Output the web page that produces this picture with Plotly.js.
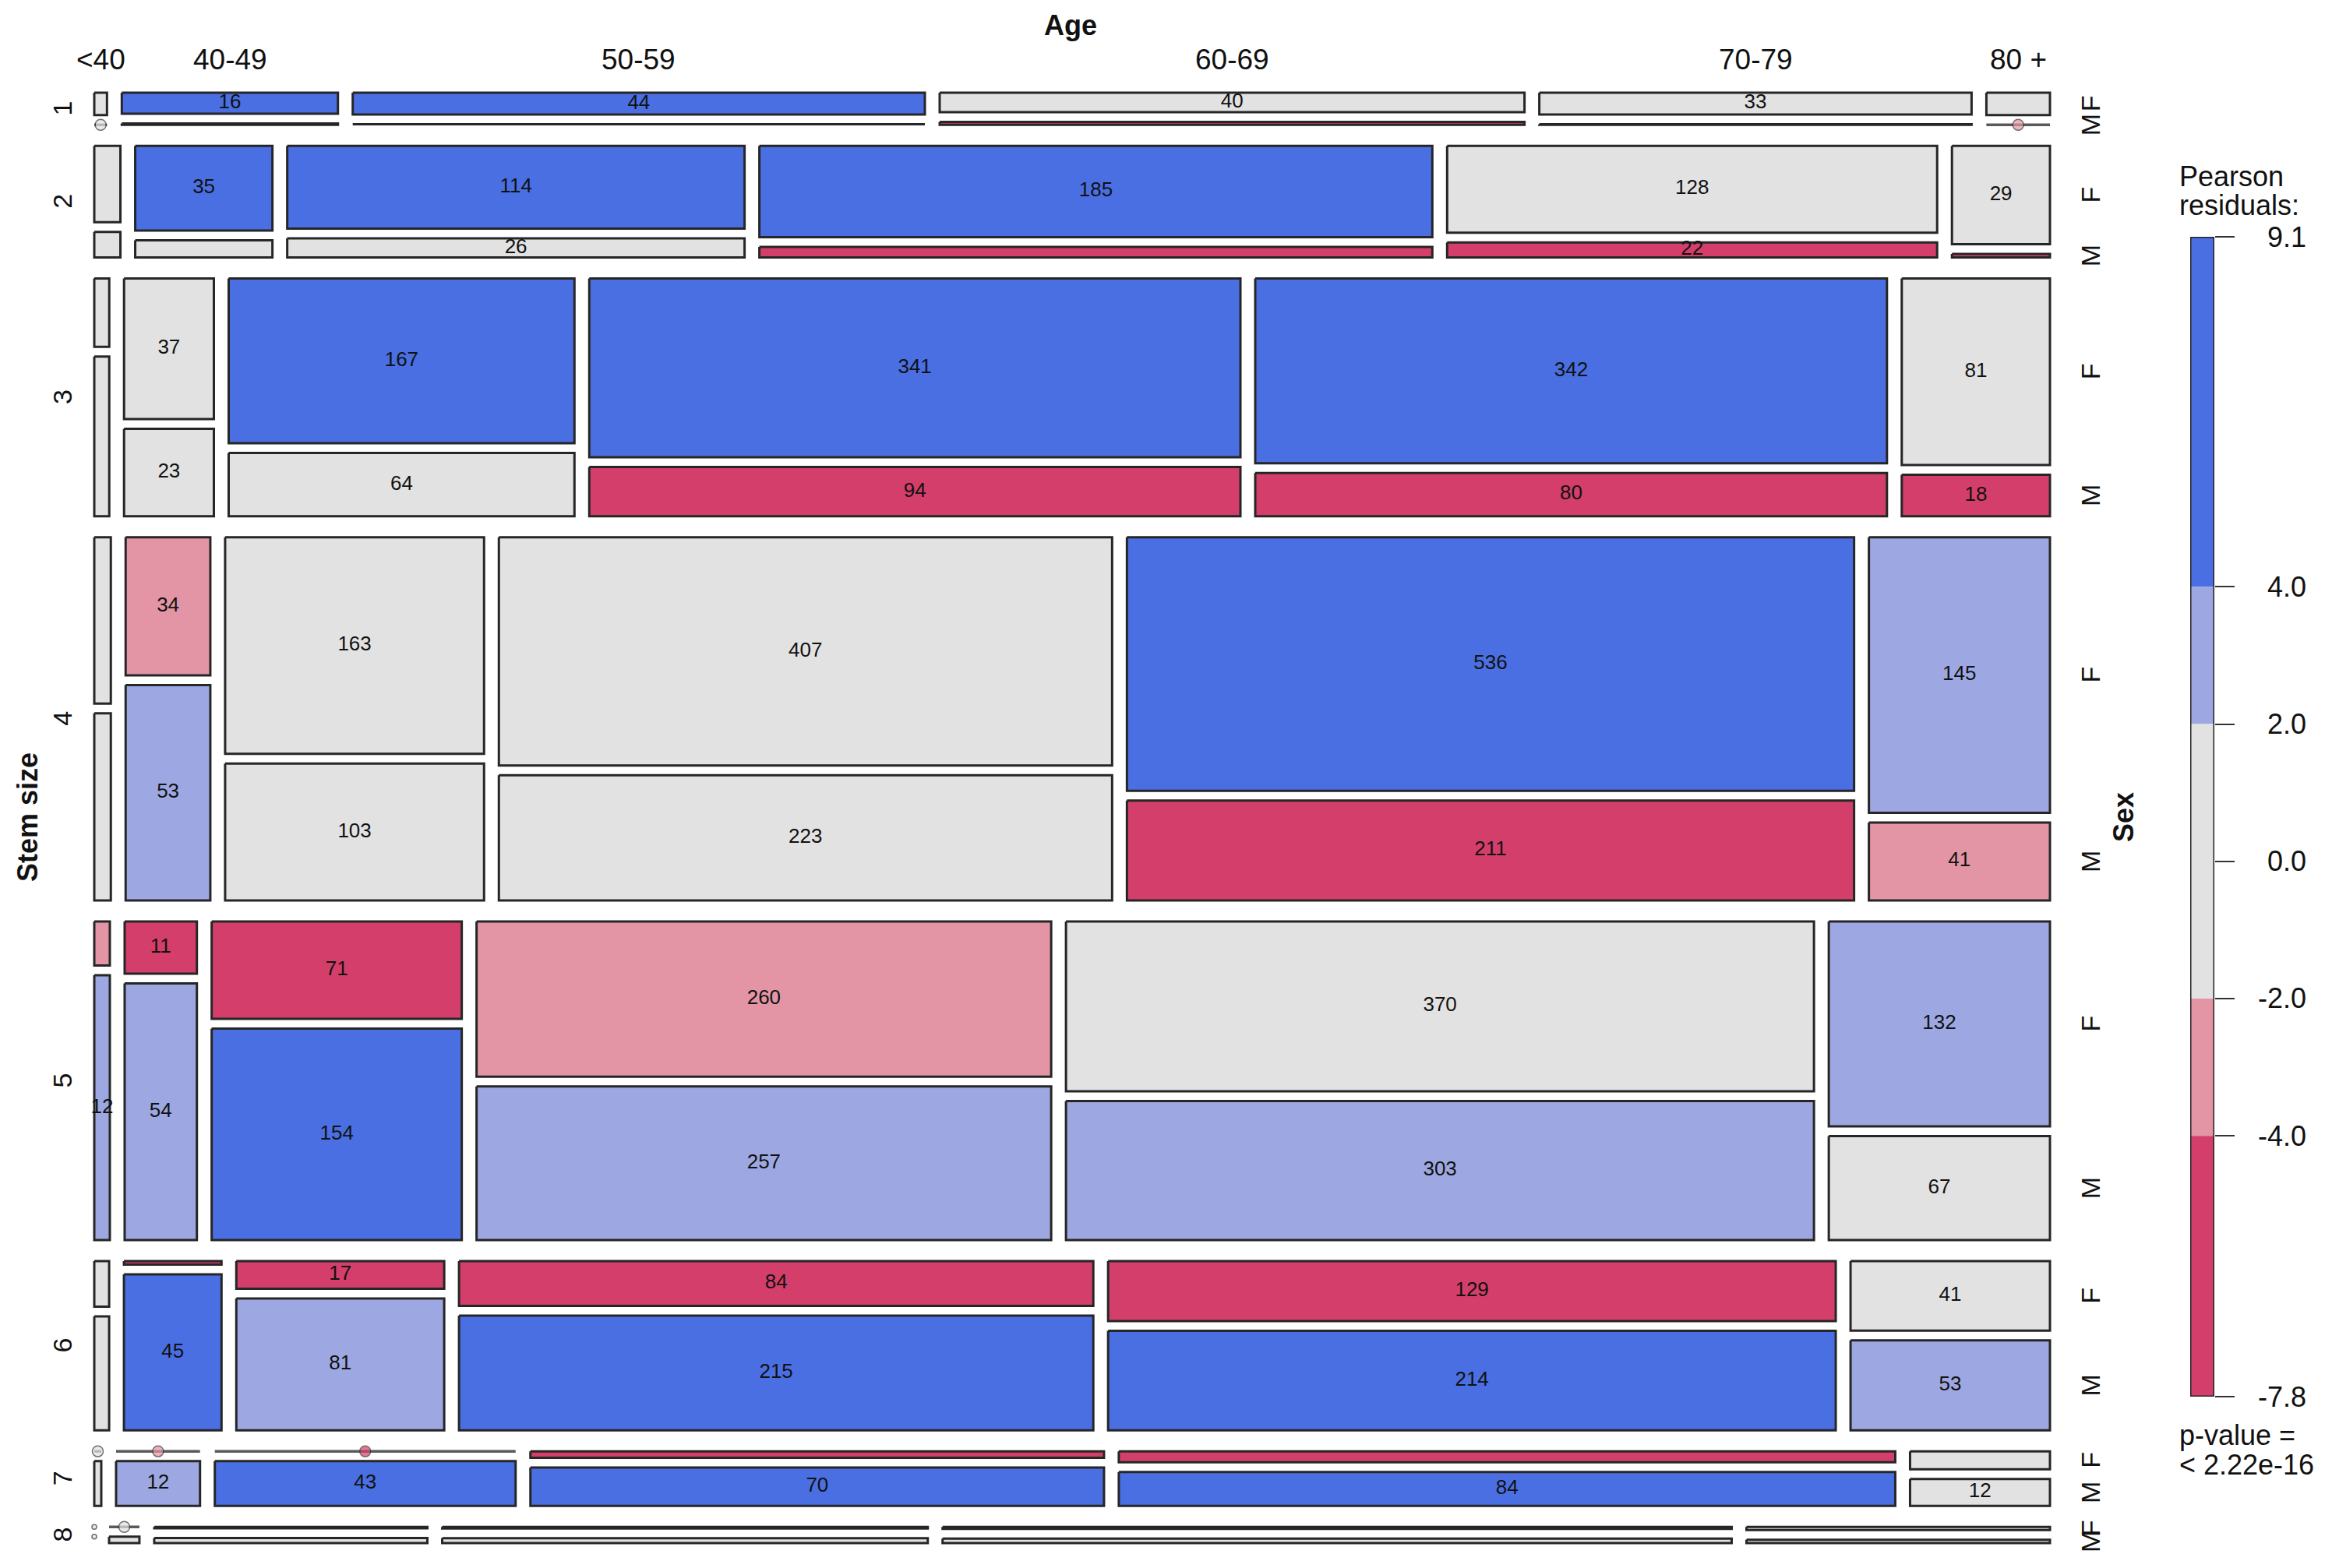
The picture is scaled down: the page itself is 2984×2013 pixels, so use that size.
<!DOCTYPE html>
<html><head><meta charset="utf-8">
<script src="https://cdn.plot.ly/plotly-3.0.1.min.js"></script>
<style>html,body{margin:0;padding:0;background:#fff;} #chart{width:2984px;height:2013px;}</style>
</head><body><div id="chart"></div>
<script>
// ---------------- data ----------------
const ageLabels  = ['<40', '40-49', '50-59', '60-69', '70-79', '80 +'];
const stemLabels = ['1', '2', '3', '4', '5', '6', '7', '8'];
const sexLabels  = ['F', 'M'];

// counts: rows = stem size, columns = age
const femaleCounts = [
  [1, 16, 44, 40, 33, 5],
  [6, 35, 114, 185, 128, 29],
  [3, 37, 167, 341, 342, 81],
  [8, 34, 163, 407, 536, 145],
  [2, 11, 71, 260, 370, 132],
  [2, 1, 17, 84, 129, 41],
  [0, 0, 0, 12, 27, 8],
  [0, 0, 2, 4, 8, 5]
];
const maleCounts = [
  [0, 1, 1, 6, 1, 0],
  [2, 7, 26, 21, 22, 1],
  [7, 23, 64, 94, 80, 18],
  [9, 53, 103, 223, 211, 41],
  [12, 54, 154, 257, 303, 67],
  [5, 45, 81, 215, 214, 53],
  [1, 12, 43, 70, 84, 12],
  [0, 1, 7, 12, 18, 5]
];
// approximate Pearson residuals (read from the shading)
const femaleResid = [
  [0.5, 5.0, 5.5, 0.5, 1.0, 0.5],
  [1.0, 6.0, 7.0, 6.0, 1.0, 1.5],
  [0.0, 0.5, 5.0, 6.5, 6.0, 1.0],
  [-1.0, -3.0, 1.0, -1.0, 4.5, 3.0],
  [-3.0, -5.0, -6.0, -3.0, -1.0, 3.0],
  [-1.0, -5.0, -6.0, -7.0, -7.0, 1.0],
  [-1.0, -3.0, -5.0, -6.0, -7.0, -1.5],
  [-0.5, -1.0, -1.0, -1.0, -1.0, 0.0]
];
const maleResid = [
  [-1.0, -1.0, -1.0, -4.5, -1.0, -2.5],
  [-1.0, -1.0, -1.5, -6.0, -5.0, -4.5],
  [0.5, 0.0, -1.0, -6.0, -7.0, -4.5],
  [1.0, 3.5, -1.0, 1.0, -6.0, -3.0],
  [2.5, 3.0, 8.0, 3.0, 3.0, 1.0],
  [1.0, 6.0, 3.5, 9.0, 7.0, 3.0],
  [1.0, 3.0, 7.0, 7.0, 8.0, 1.5],
  [0.5, 0.5, 1.0, 1.0, 1.0, 1.0]
];
const legendTicks = [9.1, 4.0, 2.0, 0.0, -2.0, -4.0, -7.8];
const legendBands = [[4.0, 9.1], [2.0, 4.0], [-2.0, 2.0], [-4.0, -2.0], [-7.8, -4.0]];
const pValueText = '< 2.22e-16';

// ---------------- layout constants (page pixels) ----------------
const W = 2984, H = 2013;
const X0 = 121, X1 = 2631, Y0 = 119, Y1 = 1981;
const rowGap = 27, colGap = 19, sexGap = 12.5, rowBase = 6;
const FONT = 'Liberation Sans, Arial, sans-serif';

function shade(r) {
  if (r > 4) return '#4A6FE3';
  if (r > 2) return '#9DA8E2';
  if (r >= -2) return '#E2E2E2';
  if (r >= -4) return '#E495A5';
  return '#D33F6A';
}
function esc(s) { return s.replace(/&/g, '&amp;').replace(/</g, '&lt;').replace(/>/g, '&gt;'); }

// ---------------- mosaic geometry from counts ----------------
const nRows = stemLabels.length, nCols = ageLabels.length;
const rowTot = femaleCounts.map((f, i) => f.reduce((a, v, j) => a + v + maleCounts[i][j], 0));
const grand = rowTot.reduce((a, b) => a + b, 0);
const kY = (Y1 - Y0 - (nRows - 1) * rowGap - nRows * rowBase) / grand;
const cells = [];
const rowGeom = [];
let yCur = Y0;
for (let i = 0; i < nRows; i++) {
  const h = rowBase + rowTot[i] * kY;
  const kX = (X1 - X0 - (nCols - 1) * colGap) / rowTot[i];
  const usable = Math.max(0, h - sexGap);
  let x = X0;
  const cols = [];
  for (let j = 0; j < nCols; j++) {
    const f = femaleCounts[i][j], m = maleCounts[i][j], t = f + m;
    const w = t * kX;
    const hf = t > 0 ? usable * f / t : 0;
    const hm = t > 0 ? usable * m / t : 0;
    const fy0 = yCur, fy1 = yCur + hf, my0 = fy1 + sexGap, my1 = my0 + hm;
    cells.push({row: i, col: j, sex: 0, x0: x, x1: x + w, y0: fy0, y1: fy1, n: f, r: femaleResid[i][j]});
    cells.push({row: i, col: j, sex: 1, x0: x, x1: x + w, y0: my0, y1: my1, n: m, r: maleResid[i][j]});
    cols.push({x0: x, x1: x + w, fy: (fy0 + fy1) / 2, my: (my0 + my1) / 2});
    x += w + colGap;
  }
  rowGeom.push({y0: yCur, y1: yCur + h, cols: cols});
  yCur += h + rowGap;
}

// ---------------- traces ----------------
const traces = [];
const groups = {};
cells.filter(c => c.n > 0).forEach(c => {
  const col = shade(c.r);
  const g = groups[col] || (groups[col] = {x: [], y: []});
  g.x.push(c.x0, c.x1, c.x1, c.x0, c.x0, null);
  g.y.push(c.y0, c.y0, c.y1, c.y1, c.y0, null);
});
Object.keys(groups).forEach(col => {
  traces.push({type: 'scatter', mode: 'lines', x: groups[col].x, y: groups[col].y,
    fill: 'toself', fillcolor: col, line: {color: '#262626', width: 3},
    hoverinfo: 'skip', showlegend: false, xaxis: 'x', yaxis: 'y'});
});
// zero cells: line + bullet
const zero = cells.filter(c => c.n === 0);
const zl = {x: [], y: []};
zero.forEach(c => { zl.x.push(c.x0, c.x1, null); zl.y.push(c.y0, c.y0, null); });
traces.push({type: 'scatter', mode: 'lines', x: zl.x, y: zl.y,
  line: {color: '#5a5a5a', width: 3.5}, hoverinfo: 'skip', showlegend: false});
traces.push({type: 'scatter', mode: 'markers',
  x: zero.map(c => (c.x0 + c.x1) / 2), y: zero.map(c => c.y0),
  marker: {size: zero.map(c => (c.x1 - c.x0) > 1 ? 14 : 6), symbol: 'circle',
           color: zero.map(c => shade(c.r)), line: {color: '#333', width: 1.5}},
  hoverinfo: 'skip', showlegend: false});
// count labels
const lab = cells.filter(c => c.n >= 10 && (c.y1 - c.y0) >= 14);
traces.push({type: 'scatter', mode: 'text',
  x: lab.map(c => (c.x0 + c.x1) / 2), y: lab.map(c => (c.y0 + c.y1) / 2),
  text: lab.map(c => String(c.n)), textposition: 'middle center',
  textfont: {family: FONT, size: 26, color: '#111'}, hoverinfo: 'skip', showlegend: false});

// legend colour bar (second axes)
legendBands.forEach(b => {
  traces.push({type: 'scatter', mode: 'lines', xaxis: 'x2', yaxis: 'y2',
    x: [0, 1, 1, 0, 0], y: [b[0], b[0], b[1], b[1], b[0]],
    fill: 'toself', fillcolor: shade((b[0] + b[1]) / 2), line: {width: 0},
    hoverinfo: 'skip', showlegend: false});
});
const lo = Math.min(...legendTicks), hi = Math.max(...legendTicks);
traces.push({type: 'scatter', mode: 'lines', xaxis: 'x2', yaxis: 'y2',
  x: [0, 1, 1, 0, 0], y: [lo, lo, hi, hi, lo],
  line: {color: '#222', width: 3}, hoverinfo: 'skip', showlegend: false});

// ---------------- annotations ----------------
const ann = [];
const tf = (size, bold) => ({family: FONT, size: size, color: '#111', weight: bold ? 'bold' : 'normal'});
ann.push({xref: 'x', yref: 'y', x: 1374, y: 32, text: 'Age', showarrow: false, font: tf(36, true)});
ageLabels.forEach((a, j) => {
  const c = rowGeom[0].cols[j];
  ann.push({xref: 'x', yref: 'y', x: (c.x0 + c.x1) / 2, y: 76, text: esc(a), showarrow: false, font: tf(37)});
});
stemLabels.forEach((s, i) => {
  const g = rowGeom[i];
  ann.push({xref: 'x', yref: 'y', x: 80, y: (g.y0 + g.y1) / 2, text: s, textangle: -90, showarrow: false, font: tf(34)});
  const last = g.cols[nCols - 1];
  ann.push({xref: 'x', yref: 'y', x: 2683, y: last.fy, text: sexLabels[0], textangle: -90, showarrow: false, font: tf(34)});
  ann.push({xref: 'x', yref: 'y', x: 2683, y: last.my, text: sexLabels[1], textangle: -90, showarrow: false, font: tf(34)});
});
ann.push({xref: 'x', yref: 'y', x: 35, y: (Y0 + Y1) / 2 - 1, text: 'Stem size', textangle: -90, showarrow: false, font: tf(36, true)});
ann.push({xref: 'x', yref: 'y', x: 2725, y: (Y0 + Y1) / 2 - 1, text: 'Sex', textangle: -90, showarrow: false, font: tf(36, true)});
// legend texts
ann.push({xref: 'x', yref: 'y', x: 2795, y: 226, xanchor: 'left', text: 'Pearson', showarrow: false, font: tf(36)});
ann.push({xref: 'x', yref: 'y', x: 2795, y: 263, xanchor: 'left', text: 'residuals:', showarrow: false, font: tf(36)});
legendTicks.forEach(v => {
  ann.push({xref: 'x', yref: 'y2', x: 2962, y: v, xanchor: 'right', text: v.toFixed(1), showarrow: false, font: tf(36)});
});
ann.push({xref: 'x', yref: 'y', x: 2795, y: 1842, xanchor: 'left', text: 'p-value =', showarrow: false, font: tf(36)});
ann.push({xref: 'x', yref: 'y', x: 2795, y: 1880, xanchor: 'left', text: esc(pValueText), showarrow: false, font: tf(36)});

const layout = {
  width: W, height: H,
  margin: {l: 0, r: 0, t: 0, b: 0, pad: 0},
  paper_bgcolor: '#ffffff', plot_bgcolor: 'rgba(0,0,0,0)',
  showlegend: false,
  xaxis: {range: [0, W], domain: [0, 1], visible: false, fixedrange: true},
  yaxis: {range: [H, 0], domain: [0, 1], visible: false, fixedrange: true},
  xaxis2: {range: [0, 1], domain: [2811 / W, 2842 / W], anchor: 'y2', visible: false, fixedrange: true},
  yaxis2: {range: [lo, hi], domain: [(H - 1793) / H, (H - 304) / H], anchor: 'x2', side: 'right',
    ticks: 'outside', ticklen: 25, tickwidth: 2, tickcolor: '#333', tickvals: legendTicks,
    showticklabels: false, showgrid: false, zeroline: false, showline: false, fixedrange: true},
  annotations: ann
};
Plotly.newPlot('chart', traces, layout, {staticPlot: true, displayModeBar: false});
</script>
</body></html>
